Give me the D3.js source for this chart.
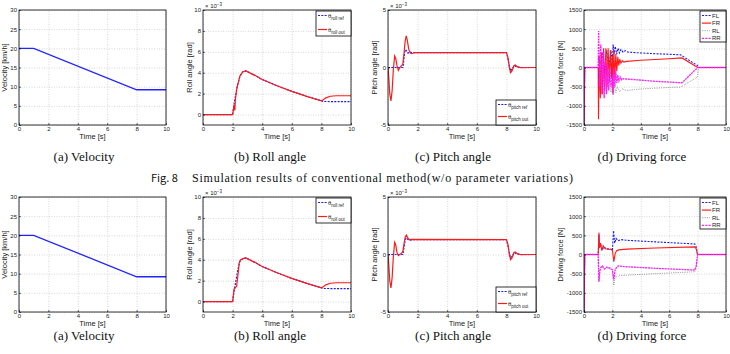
<!DOCTYPE html>
<html>
<head>
<meta charset="utf-8">
<script src="https://cdn.jsdelivr.net/npm/d3@7"></script>
<style>
body{margin:0;background:#fff}
svg{font-family:"Liberation Sans",Arial,sans-serif}
.grid line{stroke:#bdbdbd;stroke-width:0.6;stroke-dasharray:1,1.5}
.grid .domain{display:none}
.ax .domain{display:none}
.ax line{stroke:#000;stroke-width:0.6}
.ax text{font-size:6px;fill:#222}
</style>
</head>
<body>
<svg id="fig" width="730" height="354"></svg>
<script>
//---------------- data ----------------
var timeTicks = [0,2,4,6,8,10]
var velTicks = [0,5,10,15,20,25,30]
var rollTicks = [0,2,4,6,8,10]
var pitchTicks = [-5,0,5]
var forceTicks = [-1500,-1000,-500,0,500,1000,1500]

var velocity1 = [[0,20],[1,20],[8,9.2],[10,9.2]]
var velocity2 = [[0,20],[1,20],[8,9.2],[10,9.2]]

// roll angle (x 10^-3 rad)
var rollRef1 = [[0,0],[2.0,0],[2.1,1.0],[2.3,2.6],[2.5,3.7],[2.7,4.1],[2.9,4.17],[3.5,3.75],[4,3.35],[5,2.75],[6,2.22],[7,1.74],[8,1.32],[8.1,1.25],[10,1.23]]
var rollOut1 = [[0,0],[2.0,0],[2.05,0.4],[2.1,0.9],[2.15,0.4],[2.2,1.6],[2.3,2.6],[2.5,3.7],[2.7,4.1],[2.9,4.17],[3.5,3.75],[4,3.35],[5,2.75],[6,2.22],[7,1.74],[8,1.32],[8.1,1.4],[8.3,1.6],[8.6,1.75],[9,1.8],[10,1.8]]
var rollRef2 = [[0,0],[2.0,0],[2.08,0.8],[2.2,1.8],[2.35,3.0],[2.5,3.9],[2.7,4.1],[2.9,4.17],[3.5,3.75],[4,3.35],[5,2.75],[6,2.22],[7,1.74],[8,1.32],[8.1,1.25],[10,1.23]]
var rollOut2 = [[0,0],[2.0,0],[2.05,0.6],[2.1,1.2],[2.2,1.35],[2.27,1.45],[2.35,2.4],[2.45,3.7],[2.55,4.0],[2.7,4.1],[2.9,4.17],[3.5,3.75],[4,3.35],[5,2.75],[6,2.22],[7,1.74],[8,1.32],[8.1,1.4],[8.3,1.6],[8.6,1.75],[9,1.8],[10,1.8]]

// pitch angle (x 10^-3 rad)
var pitchRef1 = [[0,0],[1.0,0],[1.05,0.4],[1.12,1.3],[1.18,1.55],[1.25,1.45],[1.35,1.25],[1.45,1.35],[1.6,1.3],[8.0,1.3],[8.1,0.8],[8.2,0.1],[8.28,-0.3],[8.4,-0.1],[8.55,0.15],[8.7,0.05],[9,0],[10,0]]
var pitchOut1 = [[0,0],[0.05,-0.8],[0.12,-2.3],[0.2,-2.9],[0.28,-2.0],[0.36,-0.2],[0.45,1.0],[0.52,0.8],[0.6,0.2],[0.7,-0.25],[0.8,0],[0.9,0.15],[1.0,0.3],[1.08,1.2],[1.16,2.3],[1.23,2.75],[1.3,2.4],[1.4,1.6],[1.5,1.25],[1.6,1.2],[1.8,1.3],[8.0,1.3],[8.1,0.9],[8.2,0.0],[8.28,-0.45],[8.38,-0.3],[8.5,0.15],[8.6,0.22],[8.75,0.05],[9,-0.02],[10,0]]
var pitchRef2 = [[0,0],[1.0,0],[1.08,0.6],[1.16,1.3],[1.25,1.45],[1.35,1.3],[1.5,1.25],[1.7,1.3],[8.0,1.3],[8.1,0.8],[8.2,0.1],[8.28,-0.3],[8.4,-0.1],[8.55,0.15],[8.7,0.05],[9,0],[10,0]]
var pitchOut2 = [[0,0],[0.05,-0.8],[0.12,-2.3],[0.2,-2.9],[0.28,-2.0],[0.36,-0.2],[0.45,1.05],[0.52,0.85],[0.6,0.2],[0.7,-0.1],[0.8,0],[0.9,0.1],[1.0,0.25],[1.08,0.9],[1.16,1.5],[1.24,1.7],[1.32,1.5],[1.42,1.3],[1.6,1.32],[8.0,1.3],[8.1,0.9],[8.2,0.0],[8.28,-0.45],[8.38,-0.3],[8.5,0.15],[8.6,0.22],[8.75,0.05],[9,-0.02],[10,0]]

// driving force (N), conventional method
var forceFL1 = [[0,-1500],[0.05,0],[1,0],[1.05,300],[1.15,-200],[1.3,400],[1.45,-100],[1.6,450],[1.75,0],[1.9,450],[2.0,100],[2.05,600],[2.12,350],[2.2,550],[2.3,350],[2.4,500],[2.5,380],[2.6,470],[2.75,400],[2.9,440],[3.1,400],[4,380],[5,360],[6,345],[6.8,330],[8,50],[8.05,0],[10,0]]
var forceFR1 = [[0,-1500],[0.05,0],[1.0,0],[1.02,-1350],[1.08,300],[1.15,-800],[1.22,400],[1.3,-700],[1.38,500],[1.46,-600],[1.54,500],[1.62,-500],[1.7,500],[1.78,-400],[1.86,450],[1.94,-300],[2.0,300],[2.03,-650],[2.1,450],[2.17,-300],[2.24,350],[2.31,-100],[2.38,280],[2.45,50],[2.52,220],[2.6,110],[2.7,180],[2.8,140],[3.0,160],[4,190],[5,210],[6,230],[6.9,250],[8,0],[10,0]]
var forceRL1 = [[0,-1500],[0.05,0],[1,0],[1.05,-300],[1.15,200],[1.3,-500],[1.45,0],[1.6,-600],[1.75,-100],[1.9,-650],[2.0,-300],[2.05,-720],[2.15,-450],[2.25,-650],[2.35,-500],[2.5,-620],[2.7,-560],[3,-600],[4,-560],[5,-540],[6,-520],[6.8,-510],[8,-250],[8.05,0],[10,0]]
var forceRR1 = [[0,-1500],[0.05,0],[1.0,0],[1.03,950],[1.1,-500],[1.18,600],[1.26,-700],[1.34,400],[1.42,-800],[1.5,200],[1.58,-700],[1.66,100],[1.74,-600],[1.82,0],[1.9,-500],[2.0,-200],[2.04,-700],[2.1,0],[2.17,-500],[2.24,-100],[2.31,-400],[2.38,-200],[2.46,-350],[2.55,-250],[2.65,-320],[2.8,-290],[3,-300],[4,-330],[5,-360],[6,-380],[6.9,-400],[8,0],[10,0]]

// driving force (N), second method
var forceFL2 = [[0,-1500],[0.05,0],[1.0,0],[1.05,520],[1.1,200],[1.18,260],[1.28,120],[1.4,200],[1.55,150],[1.9,140],[2.0,100],[2.08,620],[2.16,300],[2.26,420],[2.4,360],[2.6,390],[3,370],[5,330],[7.8,275],[7.9,200],[8.0,0],[10,0]]
var forceFR2 = [[0,-1500],[0.05,0],[1.0,0],[1.05,570],[1.1,180],[1.16,300],[1.25,100],[1.35,230],[1.5,150],[1.9,130],[2.0,120],[2.1,-190],[2.2,30],[2.3,100],[2.45,120],[3,140],[5,170],[7.8,200],[7.9,150],[8.0,0],[10,0]]
var forceRL2 = [[0,-1500],[0.05,0],[1.0,0],[1.05,-700],[1.12,-400],[1.25,-300],[1.4,-380],[1.6,-350],[1.9,-380],[2.0,-420],[2.1,-800],[2.2,-550],[2.35,-600],[2.5,-550],[3,-540],[5,-500],[7.8,-450],[7.9,-350],[8.0,0],[10,0]]
var forceRR2 = [[0,-1500],[0.05,0],[1.0,0],[1.05,-710],[1.12,-420],[1.2,-330],[1.3,-300],[1.45,-380],[1.6,-330],[1.8,-350],[2.0,-400],[2.1,-650],[2.2,-380],[2.4,-300],[3,-320],[5,-360],[7.8,-405],[7.9,-300],[8.0,0],[10,0]]

var captions = ["(a) Velocity","(b) Roll angle","(c) Pitch angle","(d) Driving force"]

//---------------- layout ----------------
var svg = d3.select("#fig")
var cols = [[19,166],[203,351],[388,536],[584,726]]
var rows = [[10,125],[197,312]]
var clipN = 0

function panel(col,row,yDom,yTicks,yLabel,expLabel,series)
{
  var x0=cols[col][0], x1=cols[col][1], y0=rows[row][0], y1=rows[row][1]
  var x=d3.scaleLinear().domain([0,10]).range([x0,x1])
  var y=d3.scaleLinear().domain(yDom).range([y1,y0])
  var g=svg.append("g")

  g.append("rect").attr("x",x0).attr("y",y0).attr("width",x1-x0).attr("height",y1-y0).attr("fill","#fff")

  // grid
  g.append("g").attr("class","grid").attr("transform","translate(0,"+y1+")")
    .call(d3.axisBottom(x).tickValues(timeTicks).tickSize(-(y1-y0)).tickFormat(""))
  g.append("g").attr("class","grid").attr("transform","translate("+x0+",0)")
    .call(d3.axisLeft(y).tickValues(yTicks).tickSize(-(x1-x0)).tickFormat(""))

  // lines
  clipN++
  g.append("clipPath").attr("id","clip"+clipN).append("rect")
    .attr("x",x0).attr("y",y0).attr("width",x1-x0).attr("height",y1-y0)
  var line=d3.line().x(function(d){return x(d[0])}).y(function(d){return y(d[1])})
  series.forEach(function(s){
    g.append("path").datum(s.data)
      .attr("clip-path","url(#clip"+clipN+")")
      .attr("fill","none")
      .attr("stroke",s.color)
      .attr("stroke-width",s.width||1.2)
      .attr("stroke-dasharray",s.dash||null)
      .attr("d",line)
  })

  // axes
  g.append("g").attr("class","ax").attr("transform","translate(0,"+y1+")")
    .call(d3.axisBottom(x).tickValues(timeTicks).tickSizeInner(-2).tickSizeOuter(0).tickPadding(2))
  g.append("g").attr("class","ax").attr("transform","translate("+x0+",0)")
    .call(d3.axisLeft(y).tickValues(yTicks).tickSizeInner(-2).tickSizeOuter(0).tickPadding(2)
      .tickFormat(function(d){return d}))

  g.append("rect").attr("x",x0).attr("y",y0).attr("width",x1-x0).attr("height",y1-y0)
    .attr("fill","none").attr("stroke","#000").attr("stroke-width",0.8)

  g.append("text").attr("x",(x0+x1)/2).attr("y",y1+13.5).attr("text-anchor","middle")
    .attr("font-size","7.5px").attr("fill","#222").text("Time [s]")

  var lx = col==0 ? 7 : (col==3 ? x0-21 : x0-11)
  g.append("text").attr("transform","translate("+lx+","+((y0+y1)/2)+")rotate(-90)")
    .attr("text-anchor","middle").attr("font-size","7.5px").attr("fill","#222").text(yLabel)

  if(expLabel)
  {
    var t=g.append("text").attr("x",x0+2).attr("y",y0-2).attr("font-size","6px").attr("fill","#222")
    t.append("tspan").text("\u00d7 10")
    t.append("tspan").attr("dy","-2.5").attr("font-size","4.5px").text("\u22123")
  }
  return {x:x,y:y,g:g,x0:x0,x1:x1,y0:y0,y1:y1}
}

function legend(p,bx,by,bw,bh,items,gap)
{
  p.g.append("rect").attr("x",bx).attr("y",by).attr("width",bw).attr("height",bh)
    .attr("fill","#fff").attr("stroke","#000").attr("stroke-width",0.8)
  items.forEach(function(it,i){
    var cy=by+4.5+i*gap
    p.g.append("line").attr("x1",bx+2).attr("x2",bx+11).attr("y1",cy).attr("y2",cy)
      .attr("stroke",it.color).attr("stroke-width",it.width||1.2).attr("stroke-dasharray",it.dash||null)
    var t=p.g.append("text").attr("x",bx+12).attr("y",cy+2).attr("font-size","6px").attr("fill","#222")
    if(it.sub)
    {
      t.append("tspan").text("\u03b8")
      t.append("tspan").attr("dy","2.5").attr("font-size","4.5px").text(it.sub)
    }
    else t.text(it.label)
  })
}

var blueDash={color:"#1a1aff",dash:"2,1.3",width:1.2}
var redSolid={color:"#ff1a1a",width:1.2}

rows.forEach(function(r,ri){
  var vel = ri==0 ? velocity1 : velocity2
  panel(0,ri,[0,30],velTicks,"Velocity [km/h]",false,[{data:vel,color:"#2323ff",width:1.3}])

  var pb=panel(1,ri,[-1,10],rollTicks,"Roll angle [rad]",true,[
    {data:ri==0?rollRef1:rollRef2,color:blueDash.color,dash:blueDash.dash},
    {data:ri==0?rollOut1:rollOut2,color:redSolid.color}])
  legend(pb,pb.x1-35,pb.y0+1,35,25,[
    {sub:"roll ref",color:blueDash.color,dash:blueDash.dash},
    {sub:"roll out",color:redSolid.color}],14)

  var pc=panel(2,ri,[-5,5],pitchTicks,"Pitch angle [rad]",true,[
    {data:ri==0?pitchRef1:pitchRef2,color:blueDash.color,dash:blueDash.dash},
    {data:ri==0?pitchOut1:pitchOut2,color:redSolid.color}])
  legend(pc,pc.x1-40,pc.y1-25,40,25,[
    {sub:"pitch ref",color:blueDash.color,dash:blueDash.dash},
    {sub:"pitch out",color:redSolid.color}],12)

  var pd=panel(3,ri,[-1500,1500],forceTicks,"Driving force [N]",false,[
    {data:ri==0?forceFL1:forceFL2,color:"#1a1aff",dash:"2,1.3",width:1.1},
    {data:ri==0?forceFR1:forceFR2,color:"#ff1a1a",width:1.1},
    {data:ri==0?forceRL1:forceRL2,color:"#333",dash:"0.6,1.2",width:0.7},
    {data:ri==0?forceRR1:forceRR2,color:"#ff1aff",dash:"2,0.8",width:1.3}])
  legend(pd,pd.x1-26,pd.y0+1,26,31,[
    {label:"FL",color:"#1a1aff",dash:"2,1.3"},
    {label:"FR",color:"#ff1a1a"},
    {label:"RL",color:"#333",dash:"0.6,1.2",width:0.7},
    {label:"RR",color:"#ff1aff",dash:"2,1.3"}],7.6)

  var cy = ri==0 ? 161 : 340
  var cx = [84,270,453,642]
  captions.forEach(function(c,i){
    svg.append("text").attr("x",cx[i]).attr("y",cy).attr("text-anchor","middle")
      .attr("font-family","'Liberation Serif','DejaVu Serif',serif").attr("font-size","13px")
      .attr("fill","#111").text(c)
  })
})

var fig=svg.append("text").attr("x",151).attr("y",182).attr("fill","#111")
fig.append("tspan").attr("font-family","'Noto Sans CJK JP','Noto Sans',sans-serif").attr("font-size","11px").text("Fig. 8")
svg.append("text").attr("x",192).attr("y",182).attr("fill","#111")
  .attr("font-family","'Liberation Serif','DejaVu Serif',serif").attr("font-size","12px")
  .attr("textLength",381).attr("lengthAdjust","spacing")
  .text("Simulation results of conventional method(w/o parameter variations)")
</script>
</body>
</html>
